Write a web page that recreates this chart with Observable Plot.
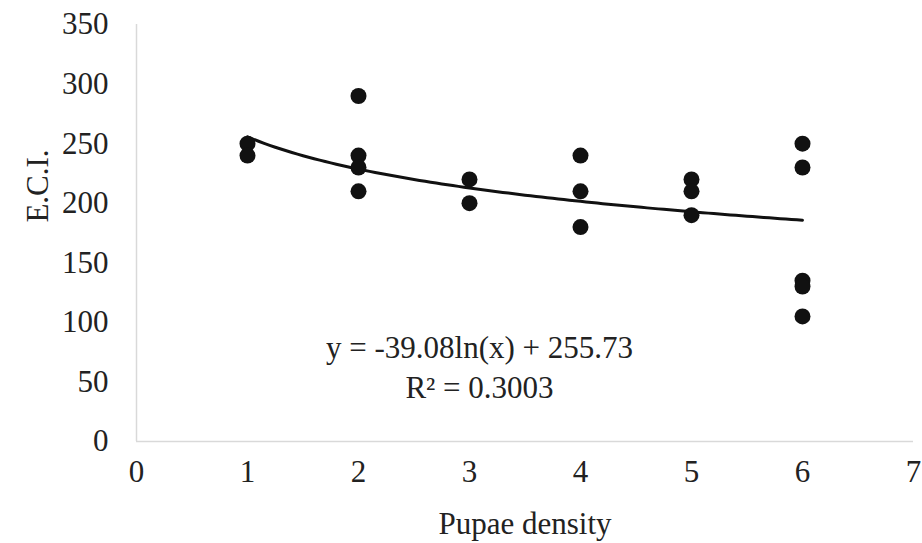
<!DOCTYPE html>
<html>
<head>
<meta charset="utf-8">
<script src="https://cdn.jsdelivr.net/npm/d3@7"></script>
<script src="https://cdn.jsdelivr.net/npm/@observablehq/plot@0.6"></script>
<style>
  html, body { margin: 0; padding: 0; background: #fff; }
</style>
</head>
<body>
<div id="chart"></div>
<script>
// Data
const densities = [1, 1, 2, 2, 2, 2, 3, 3, 4, 4, 4, 5, 5, 5, 6, 6, 6, 6, 6];
const eciValues = [250, 240, 290, 240, 230, 210, 220, 200, 240, 210, 180, 220, 210, 190, 250, 230, 135, 130, 105];
const xTicks = [0, 1, 2, 3, 4, 5, 6, 7];
const yTicks = [0, 50, 100, 150, 200, 250, 300, 350];
// Trendline as stated in the chart: y = -39.08 ln(x) + 255.73
const trendSlope = -39.08;
const trendIntercept = 255.73;
const trendR2 = "0.3003";
const trendRange = [1, 6];

const points = densities.map((d, i) => ({x: d, y: eciValues[i]}));
const trend = d3.range(trendRange[0], trendRange[1] + 1e-9, 0.05)
  .map(x => ({x, y: trendSlope * Math.log(x) + trendIntercept}));

const FS = 31;
const chart = Plot.plot({
  width: 922,
  height: 543,
  marginLeft: 136,
  marginRight: 9,
  marginTop: 24,
  marginBottom: 102,
  style: {fontFamily: "'Liberation Serif', 'Times New Roman', serif", fontSize: FS + "px", color: "#222", background: "#fff"},
  x: {domain: [0, 7]},
  y: {domain: [0, 350]},
  marks: [
    Plot.ruleY([0], {stroke: "#d9d9d9", strokeWidth: 1.5}),
    Plot.ruleX([0], {stroke: "#d9d9d9", strokeWidth: 1.5}),
    Plot.axisX({ticks: xTicks, tickSize: 0, tickPadding: 18, tickFormat: d => d, fontSize: FS,
      label: "Pupae density", labelAnchor: "center", labelArrow: "none", labelOffset: 92}),
    Plot.axisY({ticks: yTicks, tickSize: 0, tickPadding: 28, tickFormat: d => d, fontSize: FS,
      label: null}),
    Plot.text(["E.C.I."], {frameAnchor: "left", textAnchor: "middle", dx: -98, dy: -47, rotate: -90, fontSize: FS, fill: "#222"}),
    Plot.line(trend, {x: "x", y: "y", stroke: "#111", strokeWidth: 3}),
    Plot.dot(points, {x: "x", y: "y", r: 8, fill: "#111", stroke: "none"}),
    Plot.text([`y = ${trendSlope}ln(x) + ${trendIntercept}`], {x: 3.09, y: 78, fontSize: FS, fill: "#222"}),
    Plot.text([`R² = ${trendR2}`], {x: 3.09, y: 44.5, fontSize: FS, fill: "#222"})
  ]
});
document.getElementById("chart").appendChild(chart);
</script>
</body>
</html>
